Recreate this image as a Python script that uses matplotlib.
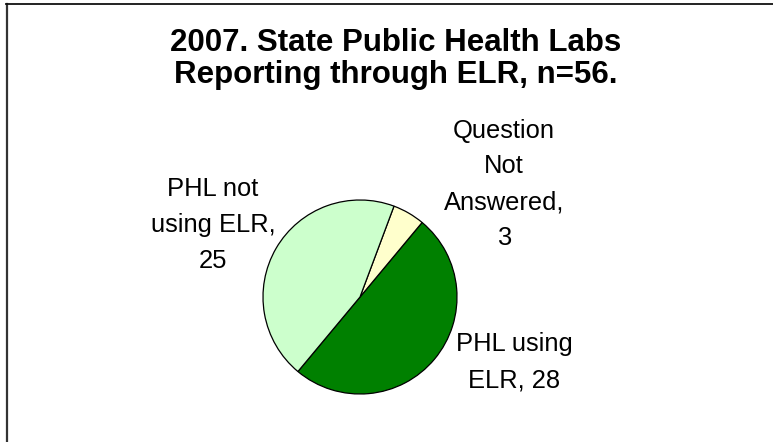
import matplotlib
matplotlib.use("Agg")
import matplotlib.pyplot as plt
from matplotlib.lines import Line2D

plt.rcParams['font.family'] = ['Liberation Sans', 'DejaVu Sans']

# ---- data ----
title = "2007. State Public Health Labs\nReporting through ELR, n=56."
categories = ["PHL using\nELR", "Question\nNot\nAnswered", "PHL not\nusing ELR"]
values = [28, 3, 25]
value_sep = [" ", "\n", "\n"]
colors = ["#008000", "#FFFFCC", "#CCFFCC"]
# label anchor positions (pie data units: radius = 1), last-line baseline
label_pos = [(1.593, -0.928), (1.485, 0.536), (-1.515, 0.299)]

W, H = 773, 442
fig = plt.figure(figsize=(W / 100, H / 100), dpi=100)
fig.patch.set_facecolor("white")

# pie axes: center (360, 297) px, radius 97 px
cx, cy, r = 360, 297, 97
ax = fig.add_axes([(cx - r) / W, (H - cy - r) / H, 2 * r / W, 2 * r / H])
ax.pie(values, colors=colors, startangle=230.2, counterclock=True,
       wedgeprops=dict(edgecolor="black", linewidth=0.9), radius=1)
ax.set_xlim(-1, 1)
ax.set_ylim(-1, 1)
ax.set_aspect("equal")
ax.axis("off")

for cat, val, sep, (lx, ly) in zip(categories, values, value_sep, label_pos):
    ax.text(lx, ly, f"{cat},{sep}{val}", ha="center", va="baseline",
            multialignment="center", fontsize=18.4, color="black",
            linespacing=1.62, clip_on=False)

fig.text(396 / W, 1 - 83 / H, title, ha="center", va="baseline",
         multialignment="center", fontsize=22.5, fontweight="bold",
         linespacing=1.08)

# frame (left and top edges visible)
fig.add_artist(Line2D([7 / W, 7 / W], [0, 1 - 3.5 / H], transform=fig.transFigure,
                      color="#333333", linewidth=1.6))
fig.add_artist(Line2D([6.2 / W, 1], [1 - 3.5 / H, 1 - 3.5 / H], transform=fig.transFigure,
                      color="#111111", linewidth=1.3))

fig.savefig("out.png", dpi=100, facecolor="white")
